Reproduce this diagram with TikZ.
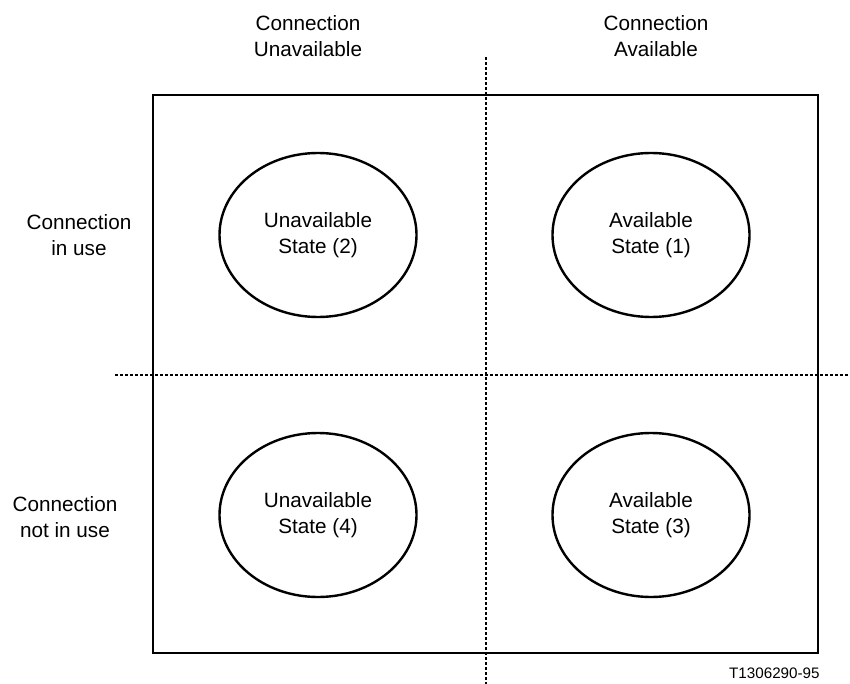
\documentclass[tikz,border=0pt]{standalone}
\usepackage{fontspec}
\setmainfont{Liberation Sans}
\usetikzlibrary{shapes.geometric}
\begin{document}
\begin{tikzpicture}[x=0.5pt,y=-0.5pt,
  font=\fontsize{10.35pt}{12.75pt}\selectfont,
  state/.style={ellipse,draw,line width=1.2pt,minimum width=98.5pt,minimum height=82pt,inner sep=0pt,align=center},
  lbl/.style={align=center,inner sep=0pt},
  frame/.style={draw,line width=0.9pt,inner sep=0pt,minimum width=332.5pt,minimum height=279pt},
  divider/.style={line width=1.3pt,dash pattern=on 1.4pt off 1.1pt}]
\useasboundingbox (0,0) rectangle (850,684);
% frame
\node[frame] (box) at (485.5,374) {};
% dividers
\coordinate (vtop) at (486,57);
\coordinate (vbot) at (486,684);
\coordinate (hleft) at (115,375);
\coordinate (hright) at (850,375);
\draw[divider] (vtop) -- (vbot);
\draw[divider] (hleft) -- (hright);
% states
\node[state] (s2) at (318,235) {Unavailable\\State (2)};
\node[state] (s1) at (651,235) {Available\\State (1)};
\node[state] (s4) at (318,515) {Unavailable\\State (4)};
\node[state] (s3) at (651,515) {Available\\State (3)};
% column labels
\node[lbl] (cu) at (308,36) {Connection\\Unavailable};
\node[lbl] (ca) at (656,36) {Connection\\Available};
% row labels
\node[lbl] (ciu) at (79,235) {Connection\\in use};
\node[lbl] (cniu) at (65,517) {Connection\\not in use};
% figure id
\node[inner sep=0pt,anchor=base east,font=\fontsize{7.6pt}{9pt}\selectfont] (fid) at (820,678) {T1306290-95};
\end{tikzpicture}
\end{document}
